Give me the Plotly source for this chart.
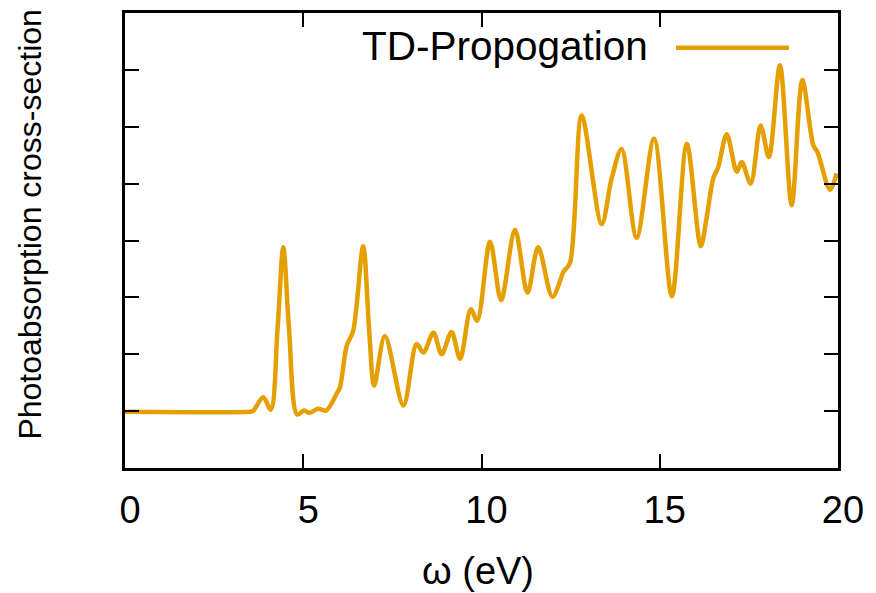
import plotly.graph_objects as go

# Photon energy (eV) and photoabsorption cross-section (arb. units)
omega = [0.0, 3.51, 3.59, 3.88, 4.09, 4.28, 4.44, 4.60, 4.83, 5.02, 5.17, 5.42, 5.64,
         5.94, 6.03, 6.22, 6.40, 6.68, 6.85, 6.99, 7.29, 7.81, 8.18, 8.37, 8.65, 8.88,
         9.16, 9.40, 9.70, 9.88, 10.24, 10.55, 10.94, 11.29, 11.59, 11.99, 12.31,
         12.48, 12.81, 13.37, 13.65, 13.93, 14.35, 14.84, 15.34, 15.76, 16.15, 16.32,
         16.50, 16.64, 16.88, 17.16, 17.30, 17.55, 17.83, 18.06, 18.37, 18.70, 19.00,
         19.31, 19.42, 19.78, 19.96]
sigma = [0.99, 0.99, 1.00, 1.245, 1.025, 2.45, 3.88, 2.45, 0.94, 1.01, 0.97, 1.04, 1.01,
         1.31, 1.42, 2.15, 2.41, 3.90, 2.41, 1.45, 2.32, 1.10, 2.18, 2.03, 2.38, 2.00,
         2.39, 1.92, 2.79, 2.59, 3.98, 2.95, 4.19, 3.08, 3.88, 3.01, 3.46,
         3.60, 6.20, 4.29, 5.09, 5.61, 4.05, 5.79, 3.02, 5.70, 3.90, 4.42,
         5.09, 5.29, 5.87, 5.21, 5.38, 5.00, 6.02, 5.47, 7.08, 4.62, 6.82,
         5.67, 5.56, 4.89, 5.18]

x_ticks = [0, 5, 10, 15, 20]
y_ticks = [1, 2, 3, 4, 5, 6, 7]

ORANGE = "#E69F00"
FONT = "Liberation Sans"

fig = go.Figure()
fig.add_trace(go.Scatter(
    x=omega, y=sigma, mode="lines", name="TD-Propogation",
    line=dict(color=ORANGE, width=4.5, shape="spline", smoothing=0.9),
    showlegend=False,
))

axis_common = dict(showline=True, linecolor="black", linewidth=2.5, mirror="ticks",
                   ticks="inside", ticklen=14, tickwidth=2, tickcolor="black",
                   showgrid=False, zeroline=False)

fig.update_xaxes(range=[0, 20], tickvals=x_ticks, ticktext=[str(v) for v in x_ticks],
                 tickfont=dict(family=FONT, size=38, color="black"),
                 ticklabelstandoff=7, ticklabelshift=5, **axis_common)
fig.update_yaxes(range=[0, 8], tickvals=y_ticks, showticklabels=False, **axis_common)

# key: text with line sample on its right (gnuplot style)
fig.add_annotation(xref="paper", yref="paper", x=0.7363, y=0.928, xanchor="right",
                   yanchor="middle", text="TD-Propogation", showarrow=False,
                   font=dict(family=FONT, size=40.5, color="black"))
fig.add_shape(type="line", xref="paper", yref="paper", x0=0.7728, x1=0.9313,
              y0=0.9236, y1=0.9236, line=dict(color=ORANGE, width=4.5))

# axis titles
fig.add_annotation(xref="paper", yref="paper", x=0.495, y=-0.227, xanchor="center",
                   yanchor="middle", text="ω (eV)", showarrow=False,
                   font=dict(family=FONT, size=38, color="black"))
fig.add_annotation(xref="paper", yref="paper", x=-0.1332, y=0.535, xanchor="center",
                   yanchor="middle", text="Photoabsorption cross-section", textangle=-90,
                   showarrow=False, font=dict(family=FONT, size=32, color="black"))

# page body has an 8px default margin, so the figure is made 8px smaller and shifted
fig.update_layout(width=868, height=585, margin=dict(l=117, r=38, t=2, b=125),
                  plot_bgcolor="white", paper_bgcolor="white")

fig.write_html("out.html")
